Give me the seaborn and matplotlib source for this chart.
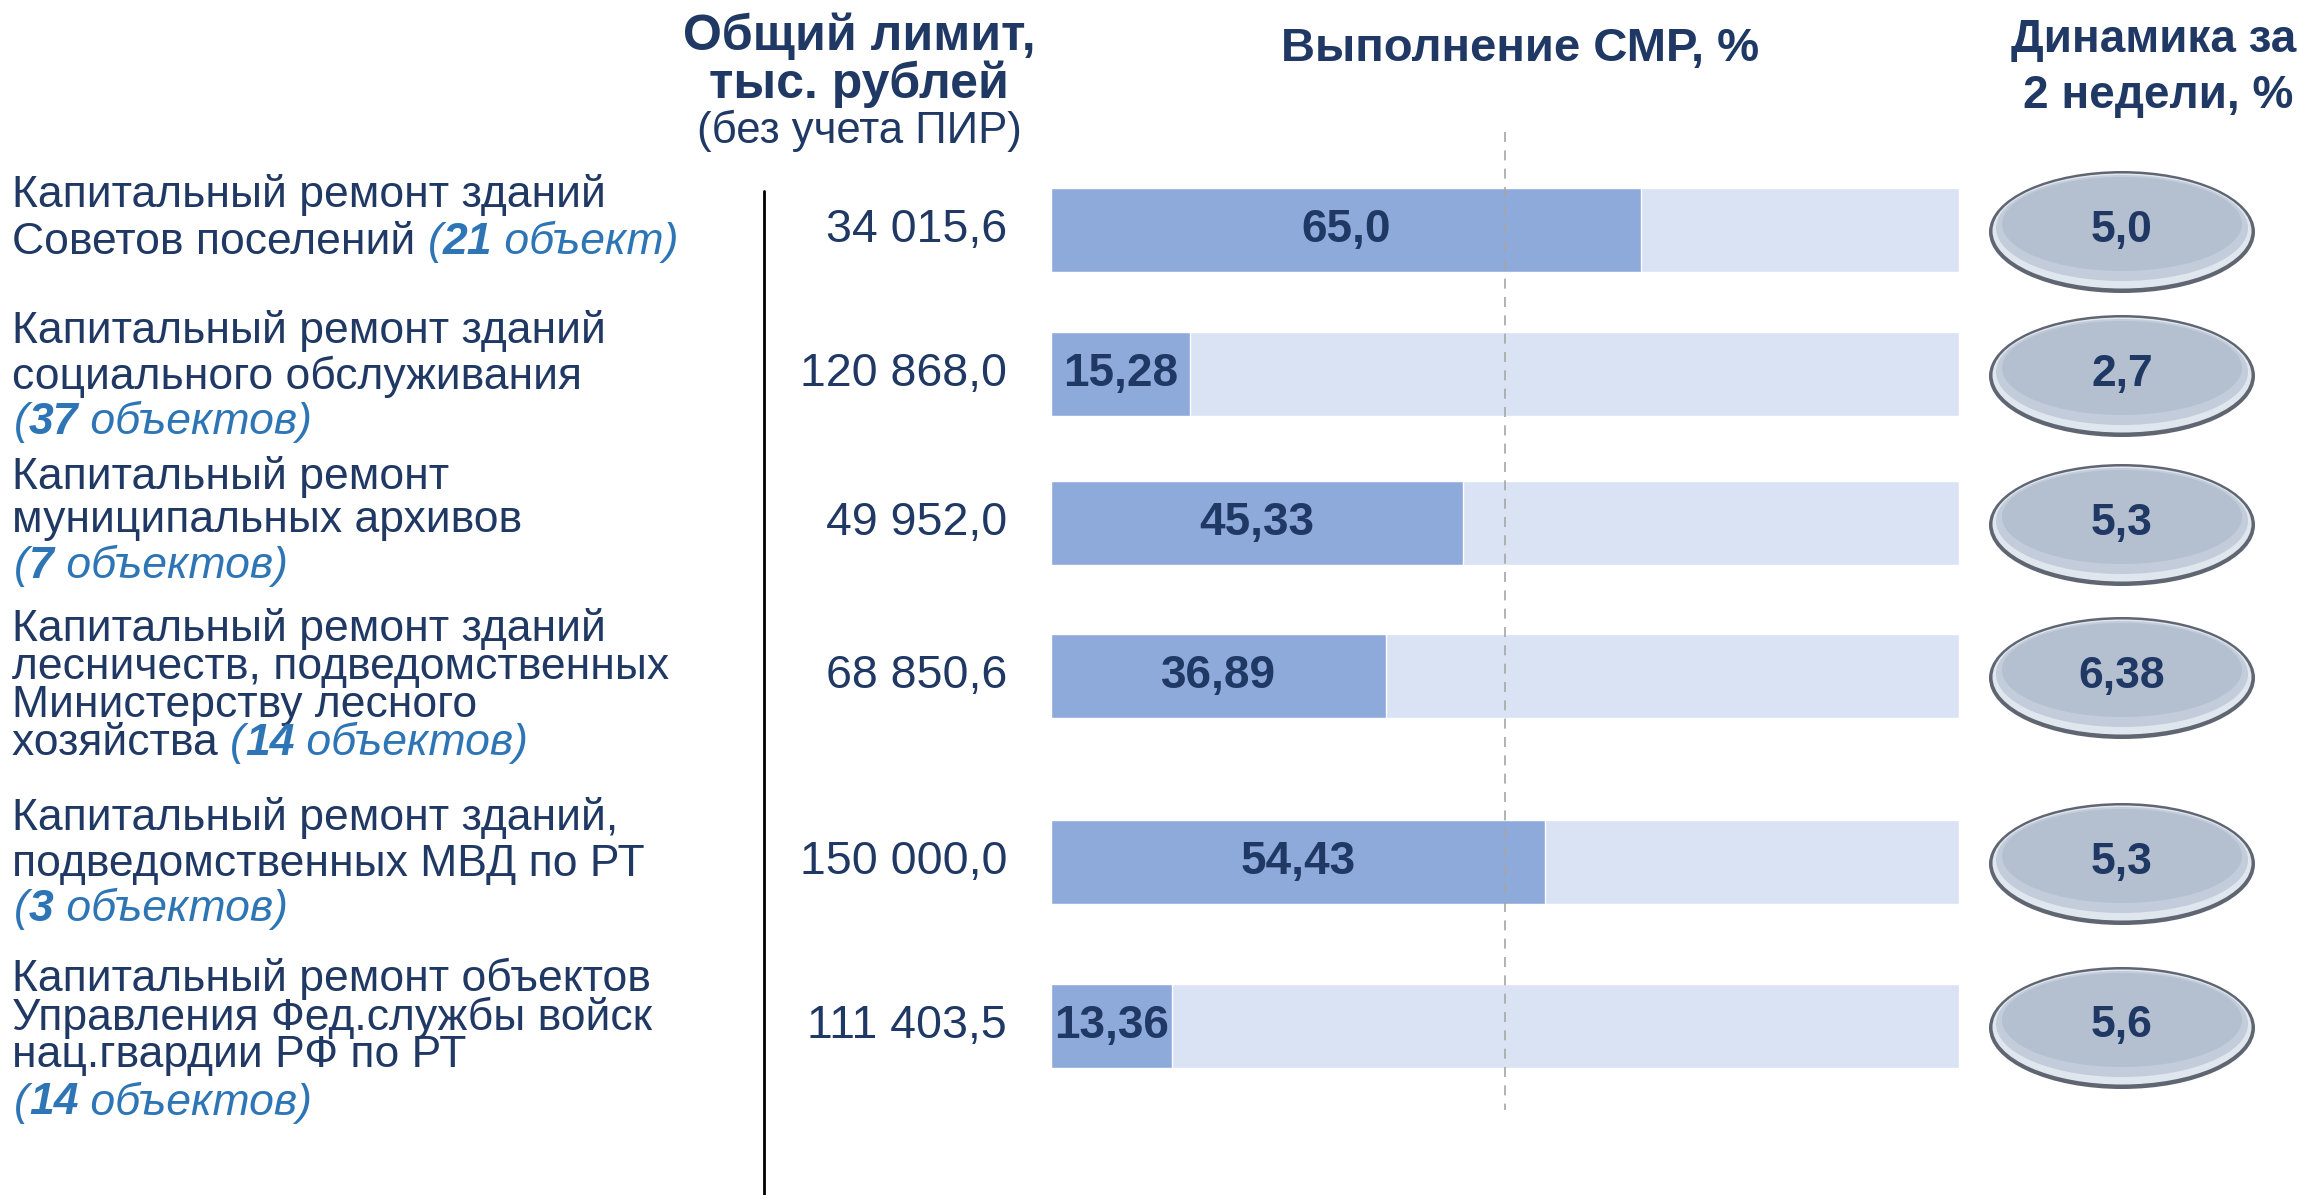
import seaborn as sns
import numpy as np
import matplotlib.pyplot as plt
from matplotlib.patches import Ellipse

# data
label_lines = [
    ["Капитальный ремонт зданий", "Советов поселений"],
    ["Капитальный ремонт зданий", "социального обслуживания"],
    ["Капитальный ремонт", "муниципальных архивов"],
    ["Капитальный ремонт зданий", "лесничеств, подведомственных", "Министерству лесного", "хозяйства"],
    ["Капитальный ремонт зданий,", "подведомственных МВД по РТ"],
    ["Капитальный ремонт объектов", "Управления Фед.службы войск", "нац.гвардии РФ по РТ"],
]
obj_count = ["21", "37", "7", "14", "3", "14"]
obj_word = ["объект", "объектов", "объектов", "объектов", "объектов", "объектов"]
limits = ["34 015,6", "120 868,0", "49 952,0", "68 850,6", "150 000,0", "111 403,5"]
smr = [65.0, 15.28, 45.33, 36.89, 54.43, 13.36]
dynamics = [5.0, 2.7, 5.3, 6.38, 5.3, 5.6]
full = [100] * len(smr)

# layout (figure pixels, y downwards)
W, H = 2299, 1195
row_y = [230, 374, 523, 676, 862, 1026]
line_y = [
    [195, 242],
    [331, 377, 422],
    [477, 520, 566],
    [629, 667, 705, 743],
    [818, 864, 909],
    [979, 1018, 1056, 1103],
]
count_inline = [True, False, False, True, False, False]

navy = "#1f3864"
blue = "#2e75b6"
fg_col = "#8eaadb"
bg_col = "#dae3f3"

sns.set_style("white")
plt.rcParams["font.family"] = ["Liberation Sans", "DejaVu Sans"]

fig = plt.figure(figsize=(W / 100, H / 100), dpi=100)

# bars
ax = fig.add_axes([1051 / W, 0, 908 / W, 1])
sns.barplot(x=full, y=row_y, orient="y", native_scale=True, color=bg_col,
            saturation=1, width=0.58, errorbar=None, ax=ax)
sns.barplot(x=smr, y=row_y, orient="y", native_scale=True, color=fg_col,
            saturation=1, width=0.58, errorbar=None, ax=ax)
ax.bar_label(ax.containers[-1], labels=[str(v).replace(".", ",") for v in smr],
             label_type="center", fontsize=33, fontweight="bold", color=navy)
ax.vlines(50, 132, 1110, colors="#a6a6a6", linestyles=(0, (6, 5)), lw=1.2, zorder=5)
ax.set_xlim(0, 100)
ax.set_ylim(H, 0)
ax.axis("off")

# overlay for text and decorations
ov = fig.add_axes([0, 0, 1, 1])
ov.set_xlim(0, W)
ov.set_ylim(H, 0)
ov.axis("off")
ov.patch.set_alpha(0)


def rich_line(x, y, parts, size):
    prev = None
    for text, color, weight, style in parts:
        kw = dict(fontsize=size, color=color, fontweight=weight, fontstyle=style)
        if prev is None:
            prev = ov.text(x, y, text, ha="left", va="center", **kw)
        else:
            prev = ov.annotate(text, xy=(1, 0), xycoords=prev, ha="left", va="bottom", **kw)


fs = 32
for i, lines in enumerate(label_lines):
    ys = line_y[i]
    count_parts = [("(", blue, "normal", "italic"),
                   (obj_count[i], blue, "bold", "italic"),
                   (" " + obj_word[i] + ")", blue, "normal", "italic")]
    for j, line in enumerate(lines):
        parts = [(line, navy, "normal", "normal")]
        if count_inline[i] and j == len(lines) - 1:
            parts = [(line + " ", navy, "normal", "normal")] + count_parts
        rich_line(12, ys[j], parts, fs)
    if not count_inline[i]:
        rich_line(14, ys[len(lines)], count_parts, fs)

# limits column
for i, v in enumerate(limits):
    ov.text(1007, row_y[i], v, ha="right", va="center", fontsize=33.5, color=navy)

ov.plot([764, 764], [191, H], color="black", lw=2)

# dynamics ellipses
for i, v in enumerate(dynamics):
    cx, cy = 2122, row_y[i]
    ov.add_patch(Ellipse((cx, cy + 2), 266, 122, facecolor="#5f6672", edgecolor="none"))
    ov.add_patch(Ellipse((cx, cy + 1), 259, 115, facecolor="#dfe6ee", edgecolor="none"))
    ov.add_patch(Ellipse((cx, cy - 2), 252, 106, facecolor="#c3ccda", edgecolor="none"))
    ov.add_patch(Ellipse((cx, cy - 6), 240, 94, facecolor="#b4bfd0", edgecolor="none"))
    ov.text(cx, cy, str(v).replace(".", ","), ha="center", va="center",
            fontsize=32, fontweight="bold", color=navy)

# headers
ov.text(859, 36, "Общий лимит,", ha="center", va="center", fontsize=36, fontweight="bold", color=navy)
ov.text(859, 84, "тыс. рублей", ha="center", va="center", fontsize=36, fontweight="bold", color=navy)
ov.text(859, 131, "(без учета ПИР)", ha="center", va="center", fontsize=31.5, color=navy)
ov.text(1520, 49, "Выполнение СМР, %", ha="center", va="center", fontsize=34, fontweight="bold", color=navy)
ov.text(W - 3, 40, "Динамика за", ha="right", va="center", fontsize=33, fontweight="bold", color=navy)
ov.text(2158, 96, "2 недели, %", ha="center", va="center", fontsize=33, fontweight="bold", color=navy)

fig.savefig("out.png", dpi=100)
